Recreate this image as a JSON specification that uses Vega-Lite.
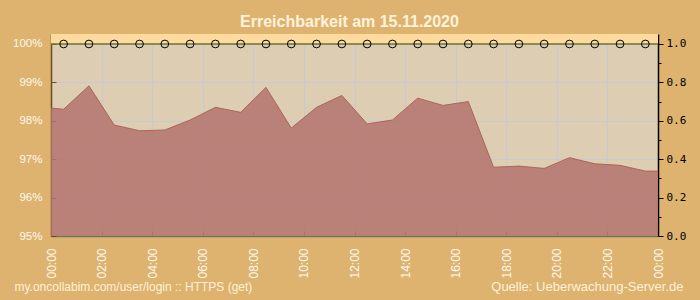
{
  "$schema": "https://vega.github.io/schema/vega-lite/v6.json",
  "width": 607,
  "height": 202,
  "autosize": {"type": "none"},
  "padding": {"left": 51, "top": 34, "right": 42, "bottom": 64},
  "background": "#ddb36f",
  "config": {
    "view": {"fill": "#ddcdb2", "stroke": null},
    "font": "Liberation Sans"
  },
  "title": {
    "text": "Erreichbarkeit am 15.11.2020",
    "font": "Liberation Sans",
    "fontSize": 16,
    "fontWeight": "bold",
    "color": "#fff3dc",
    "anchor": "middle",
    "frame": "group",
    "dx": -5,
    "offset": 4
  },
  "data": {
    "values": [
      {"t": 0, "pct": 98.33},
      {"t": 0.5, "pct": 98.30, "ok": 1},
      {"t": 1.5, "pct": 98.91, "ok": 1},
      {"t": 2.5, "pct": 97.89, "ok": 1},
      {"t": 3.5, "pct": 97.74, "ok": 1},
      {"t": 4.5, "pct": 97.76, "ok": 1},
      {"t": 5.5, "pct": 98.02, "ok": 1},
      {"t": 6.5, "pct": 98.35, "ok": 1},
      {"t": 7.5, "pct": 98.22, "ok": 1},
      {"t": 8.5, "pct": 98.87, "ok": 1},
      {"t": 9.5, "pct": 97.81, "ok": 1},
      {"t": 10.5, "pct": 98.35, "ok": 1},
      {"t": 11.5, "pct": 98.66, "ok": 1},
      {"t": 12.5, "pct": 97.92, "ok": 1},
      {"t": 13.5, "pct": 98.02, "ok": 1},
      {"t": 14.5, "pct": 98.59, "ok": 1},
      {"t": 15.5, "pct": 98.40, "ok": 1},
      {"t": 16.5, "pct": 98.50, "ok": 1},
      {"t": 17.5, "pct": 96.79, "ok": 1},
      {"t": 18.5, "pct": 96.82, "ok": 1},
      {"t": 19.5, "pct": 96.76, "ok": 1},
      {"t": 20.5, "pct": 97.04, "ok": 1},
      {"t": 21.5, "pct": 96.88, "ok": 1},
      {"t": 22.5, "pct": 96.84, "ok": 1},
      {"t": 23.5, "pct": 96.69, "ok": 1},
      {"t": 24, "pct": 96.69}
    ]
  },
  "layer": [
    {
      "layer": [
        {
          "data": {"values": [{}]},
          "mark": {"type": "rect", "color": "#ffda9e"},
          "encoding": {
            "y": {"datum": 100, "type": "quantitative"},
            "y2": {"datum": 100.26}
          }
        },
        {
          "mark": {"type": "area", "color": "#b3746d", "opacity": 0.86, "line": {"color": "#b0645a", "strokeWidth": 1}},
          "encoding": {
            "x": {
              "field": "t",
              "type": "quantitative",
              "scale": {"domain": [0, 24], "nice": false, "zero": false},
              "axis": {
                "values": [0,0.5,1,1.5,2,2.5,3,3.5,4,4.5,5,5.5,6,6.5,7,7.5,8,8.5,9,9.5,10,10.5,11,11.5,12,12.5,13,13.5,14,14.5,15,15.5,16,16.5,17,17.5,18,18.5,19,19.5,20,20.5,21,21.5,22,22.5,23,23.5,24],
                "labelExpr": "datum.value % 2 === 0 ? ((datum.value % 24) < 10 ? '0' : '') + (datum.value % 24) + ':00' : ''",
                "labelAngle": -90,
                "labelAlign": "right",
                "labelBaseline": "middle",
                "labelFontSize": 12,
                "labelFont": "Liberation Sans",
                "labelColor": "#fff8ee",
                "labelPadding": 17,
                "labelOverlap": false,
                "labelFlush": false,
                "tickSize": {"condition": {"test": "datum.value % 2 === 0", "value": -5}, "value": -3},
                "tickColor": "#6b7a56",
                "domainColor": "#6b7a56",
                "domainWidth": 1.5,
                "grid": true,
                "gridColor": "#c8c9d2",
                "gridOpacity": {"condition": {"test": "datum.value % 2 === 0", "value": 1}, "value": 0},
                "title": "my.oncollabim.com/user/login :: HTTPS (get)",
                "titleX": -37,
                "titleY": 50,
                "titleAlign": "left",
                "titleAnchor": "start",
                "titleBaseline": "middle",
                "titleFont": "Liberation Sans",
                "titleFontSize": 12,
                "titleFontWeight": "normal",
                "titleColor": "#fff1d8"
              }
            },
            "y": {
              "field": "pct",
              "type": "quantitative",
              "scale": {"domain": [95, 100.26], "nice": false, "zero": false},
              "axis": {
                "values": [95,95.5,96,96.5,97,97.5,98,98.5,99,99.5,100],
                "labelExpr": "datum.value % 1 === 0 ? datum.value + '%' : ''",
                "labelFontSize": 11.5,
                "labelFont": "Liberation Sans",
                "labelColor": "#fff8ee",
                "labelPadding": 14,
                "tickSize": {"condition": {"test": "datum.value % 1 === 0", "value": -5}, "value": -3},
                "tickColor": "#6d4c1e",
                "domainColor": "#6d4c1e",
                "domainWidth": 1.5,
                "grid": true,
                "gridColor": "#c8c9d2",
                "gridOpacity": {"condition": {"test": "datum.value % 1 === 0", "value": 1}, "value": 0},
                "title": null
              }
            },
            "y2": {"datum": 95}
          }
        },
        {
          "data": {"values": [{}]},
          "mark": {"type": "rule", "color": "#6b7530", "strokeWidth": 1.5},
          "encoding": {"y": {"datum": 100, "type": "quantitative"}}
        }
      ]
    },
    {
      "transform": [{"filter": "datum.ok != null"}],
      "mark": {"type": "point", "shape": "circle", "filled": false, "stroke": "#000000", "strokeWidth": 1, "size": 60, "opacity": 1},
      "encoding": {
        "x": {"field": "t", "type": "quantitative", "scale": {"domain": [0, 24], "nice": false, "zero": false}},
        "y": {
          "field": "ok",
          "type": "quantitative",
          "scale": {"domain": [0, 1.052], "nice": false, "zero": false},
          "axis": {
            "orient": "right",
            "values": [0,0.1,0.2,0.3,0.4,0.5,0.6,0.7,0.8,0.9,1],
            "labelExpr": "round(datum.value * 10) % 2 === 0 ? format(datum.value, '.1f') : ''",
            "labelFont": "DejaVu Sans Mono",
            "labelFontSize": 11,
            "labelColor": "#000000",
            "labelPadding": 3,
            "tickSize": {"condition": {"test": "round(datum.value * 10) % 2 === 0", "value": 5}, "value": 3},
            "tickColor": "#000000",
            "domainColor": "#000000",
            "domainWidth": 1.5,
            "grid": false,
            "title": "Quelle: Ueberwachung-Server.de",
            "titleAngle": 0,
            "titleX": 25,
            "titleY": 252,
            "titleAlign": "right",
            "titleBaseline": "middle",
            "titleFont": "Liberation Sans",
            "titleFontSize": 13,
            "titleFontWeight": "normal",
            "titleColor": "#fff1d8"
          }
        }
      }
    }
  ],
  "resolve": {"scale": {"y": "independent"}}
}
